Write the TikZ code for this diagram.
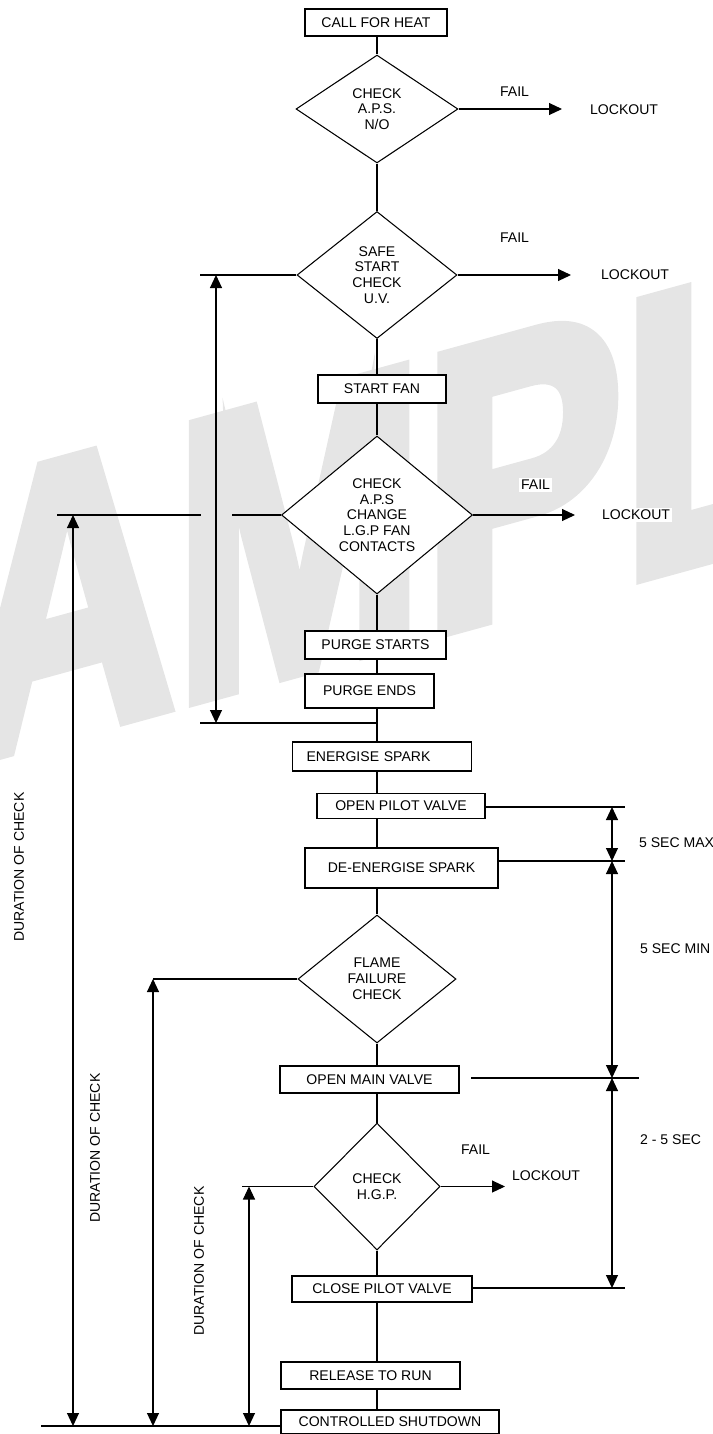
\documentclass[tikz,border=0pt]{standalone}
\usepackage{fontspec}
\setmainfont{Liberation Sans}
\newfontfamily\markfont{Liberation Sans Bold}[FakeBold=4]
\usepackage{tikz}
\usetikzlibrary{shapes.geometric}
\usetikzlibrary{arrows.meta}
\newcommand{\linew}{0.6pt}
\newcommand{\tiplen}{0.26cm}
\newcommand{\tipwid}{0.24cm}
\tikzset{
    common/.style={draw, fill=white, line width=\linew, inner sep=0pt, align=center},
    stepbox/.style={common, rectangle},
    check/.style={common, diamond},
    note/.style={fill=white, inner sep=1pt, anchor=west},
    duration/.style={rotate=90, inner sep=0pt},
    flow/.style={line width=\linew},
    tip/.style={flow, -{Triangle[length=\tiplen, width=\tipwid]}},
    span/.style={flow, {Triangle[length=\tiplen, width=\tipwid]}-{Triangle[length=\tiplen, width=\tipwid]}}
}

\begin{document}
\begin{tikzpicture}[x=0.02cm, y=-0.02cm, every node/.style={font=\fontsize{8}{9}\selectfont}]

      \useasboundingbox (0,0) rectangle (713,1434);

      \begin{scope}
        \clip (0,0) rectangle (713,1434);
        \node[font=\markfont\fontsize{225}{225}\selectfont, text=black!10, inner sep=0pt,
              anchor=base west, yslant=0.275, xscale=0.755] (mark) at (-240,818) {SAMPLE};
      \end{scope}

      \coordinate (spine) at (377,0);

      \node[stepbox, minimum width=2.84cm, minimum height=0.54cm] (heat) at (376,22.5) {CALL FOR HEAT};
      \node[check, minimum width=3.24cm, minimum height=2.16cm] (aps) at (377,109) {CHECK\\A.P.S.\\N/O};
      \node[check, minimum width=3.2cm, minimum height=2.54cm] (uv) at (377,275) {SAFE\\START\\CHECK\\U.V.};
      \node[stepbox, minimum width=2.56cm, minimum height=0.56cm] (fan) at (382,389) {START FAN};
      \node[check, minimum width=3.82cm, minimum height=3.16cm] (lgp) at (377,515) {CHECK\\A.P.S\\CHANGE\\L.G.P FAN\\CONTACTS};
      \node[stepbox, minimum width=2.82cm, minimum height=0.56cm] (pstart) at (375.5,645) {PURGE STARTS};
      \node[stepbox, minimum width=2.58cm, minimum height=0.68cm] (pend) at (369.5,691) {PURGE ENDS};
      \node[stepbox, minimum width=3.58cm, minimum height=0.58cm, inner xsep=0.28cm, text width=3.02cm, align=left] (spark) at (382,756.5) {ENERGISE SPARK};
      \node[stepbox, minimum width=3.36cm, minimum height=0.5cm] (pilot) at (401,806) {OPEN PILOT VALVE};
      \node[stepbox, minimum width=3.86cm, minimum height=0.8cm] (despark) at (401.5,868) {DE-ENERGISE SPARK};
      \node[check, minimum width=3.16cm, minimum height=2.56cm] (ffc) at (377,979) {FLAME\\FAILURE\\CHECK};
      \node[stepbox, minimum width=3.58cm, minimum height=0.54cm] (mainv) at (369.5,1079.5) {OPEN MAIN VALVE};
      \node[check, minimum width=2.52cm, minimum height=2.54cm] (hgp) at (377,1186.5) {CHECK\\H.G.P.};
      \node[stepbox, minimum width=3.6cm, minimum height=0.52cm] (closep) at (382,1289) {CLOSE PILOT VALVE};
      \node[stepbox, minimum width=3.58cm, minimum height=0.54cm] (release) at (370.5,1375.5) {RELEASE TO RUN};
      \node[stepbox, minimum width=4.36cm, minimum height=0.48cm] (shutdown) at (390,1422) {CONTROLLED SHUTDOWN};

      \foreach \a/\b in {heat/aps, aps/uv, uv/fan, fan/lgp, lgp/pstart, pstart/pend, pend/spark,
                         spark/pilot, pilot/despark, despark/ffc, ffc/mainv, mainv/hgp,
                         hgp/closep, closep/release, release/shutdown}
        \draw[flow] (\a.south -| spine) -- (\b.north -| spine);

      \node[note] (fail-a) at (498,92) {FAIL};
      \node[note] (lock-a) at (588,110) {LOCKOUT};
      \node[note] (fail-b) at (498,238) {FAIL};
      \node[note] (lock-b) at (599,275) {LOCKOUT};
      \node[note] (fail-c) at (519,485) {FAIL};
      \node[note] (lock-c) at (600,515) {LOCKOUT};
      \node[note] (fail-d) at (459,1150) {FAIL};
      \node[note] (lock-d) at (510,1176) {LOCKOUT};

      \coordinate (tip-a) at (562,109);
      \coordinate (tip-b) at (571,275);
      \coordinate (tip-c) at (575,515);
      \coordinate (tip-d) at (505,1186.5);
      \draw[tip] (aps.east) -- (tip-a);
      \draw[tip] (uv.east) -- (tip-b);
      \draw[tip] (lgp.east) -- (tip-c);
      \draw[tip] (hgp.east) -- (tip-d);

      \coordinate (uv-left) at (200,275);
      \coordinate (purge-left) at (200,723);
      \coordinate (col-a) at (216,0);
      \draw[flow] (uv.west) -- (uv-left);
      \draw[flow] (purge-left -| spine) -- (purge-left);
      \draw[span] (uv-left -| col-a) -- (purge-left -| col-a);

      \coordinate (lgp-left) at (57,515);
      \coordinate (hop-left) at (201,515);
      \coordinate (hop-right) at (232,515);
      \coordinate (base) at (41,1426);
      \coordinate (col-b) at (73,0);
      \draw[flow] (lgp-left) -- (hop-left) (hop-right) -- (lgp.west);
      \draw[flow] (base) -- (base -| shutdown.west);
      \draw[span] (lgp-left -| col-b) -- (base -| col-b);

      \coordinate (ffc-left) at (153,979);
      \draw[flow] (ffc.west) -- (ffc-left);
      \draw[span] (ffc-left) -- (base -| ffc-left);

      \coordinate (hgp-left) at (242,1186.5);
      \coordinate (col-d) at (249,0);
      \draw[flow] (hgp.west) -- (hgp-left);
      \draw[span] (hgp-left -| col-d) -- (base -| col-d);

      \node[duration] (dur-a) at (19,867) {DURATION OF CHECK};
      \node[duration] (dur-b) at (95,1148) {DURATION OF CHECK};
      \node[duration] (dur-c) at (199,1261) {DURATION OF CHECK};

      \coordinate (max-top) at (625,807);
      \coordinate (max-bot) at (625,861);
      \coordinate (main-left) at (471,1078);
      \coordinate (main-right) at (639,1078);
      \coordinate (close-right) at (625,1288);
      \coordinate (col-r) at (612,0);
      \draw[flow] (max-top -| pilot.east) -- (max-top);
      \draw[flow] (max-bot -| despark.east) -- (max-bot);
      \draw[flow] (main-left) -- (main-right);
      \draw[flow] (close-right -| closep.east) -- (close-right);
      \draw[span] (max-top -| col-r) -- (max-bot -| col-r);
      \draw[span] (max-bot -| col-r) -- (main-right -| col-r);
      \draw[span] (main-right -| col-r) -- (close-right -| col-r);

      \node[note] (sec-max) at (637,843) {5 SEC MAX};
      \node[note] (sec-min) at (638,949) {5 SEC MIN};
      \node[note] (sec-range) at (638,1140) {2 - 5 SEC};
    \end{tikzpicture}
\end{document}
